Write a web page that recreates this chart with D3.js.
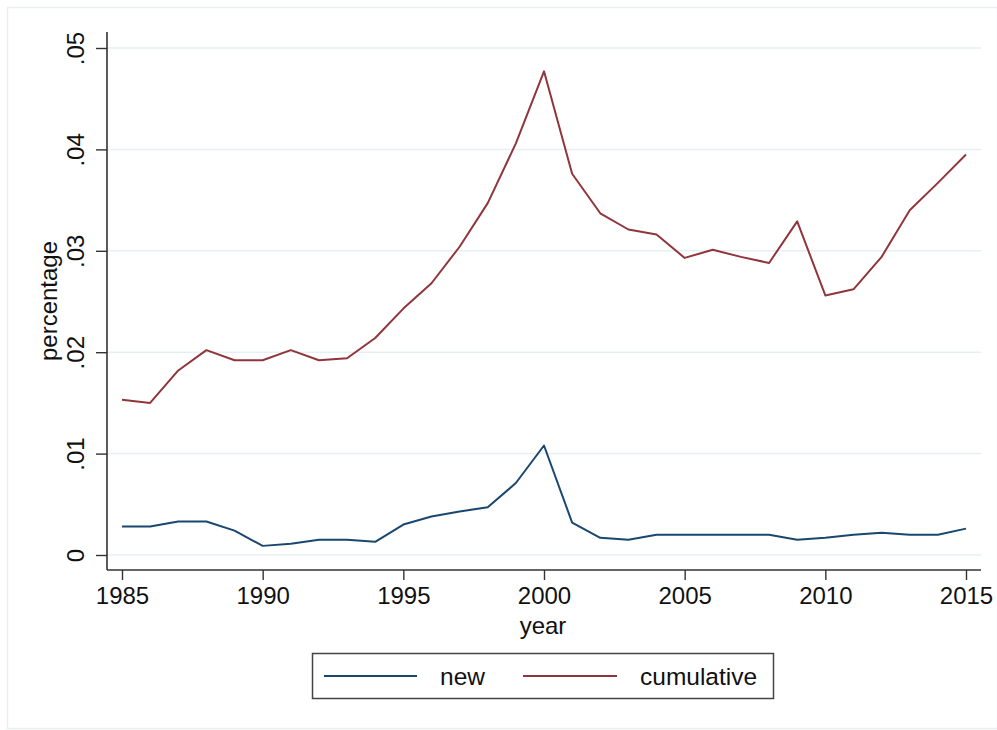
<!DOCTYPE html>
<html>
<head>
<meta charset="utf-8">
<script src="https://cdn.jsdelivr.net/npm/d3@7"></script>
<style>
  html, body { margin: 0; padding: 0; background: #fff; }
  svg { display: block; }
  text { font-family: "Liberation Sans", Arial, Helvetica, sans-serif; fill: #111; }
</style>
</head>
<body>
<script>
// ---- data ----
const years = [1985,1986,1987,1988,1989,1990,1991,1992,1993,1994,1995,1996,1997,1998,1999,2000,
               2001,2002,2003,2004,2005,2006,2007,2008,2009,2010,2011,2012,2013,2014,2015];
const newValues = [0.0028,0.0028,0.0033,0.0033,0.0024,0.0009,0.0011,0.0015,0.0015,0.0013,0.0030,0.0038,
                   0.0043,0.0047,0.0071,0.0108,0.0032,0.0017,0.0015,0.0020,0.0020,0.0020,0.0020,0.0020,
                   0.0015,0.0017,0.0020,0.0022,0.0020,0.0020,0.0026];
const cumulativeValues = [0.0153,0.0150,0.0182,0.0202,0.0192,0.0192,0.0202,0.0192,0.0194,0.0214,0.0243,0.0268,
                          0.0304,0.0347,0.0406,0.0477,0.0376,0.0337,0.0321,0.0316,0.0293,0.0301,0.0294,0.0288,
                          0.0329,0.0256,0.0262,0.0294,0.0340,0.0367,0.0395];
const xTicks = [1985,1990,1995,2000,2005,2010,2015];
const yTicks = [0,0.01,0.02,0.03,0.04,0.05];
const yTickLabels = ["0",".01",".02",".03",".04",".05"];
const seriesNames = ["new","cumulative"];
const seriesColors = ["#1a476f","#90353b"];

// ---- layout ----
const W = 997, H = 730;
const svg = d3.select("body").append("svg").attr("width", W).attr("height", H);

// outer frame
svg.append("rect").attr("x", 7.5).attr("y", 7.5).attr("width", W - 7).attr("height", H - 9)
  .attr("fill", "#fff").attr("stroke", "#e9eef0").attr("stroke-width", 1.5);

const plotLeft = 107, plotRight = 981, plotTop = 32, plotBottom = 570;
const x = d3.scaleLinear().domain([1985, 2015]).range([122, 966]);
const y = d3.scaleLinear().domain([0, 0.05]).range([555, 48]);

// gridlines
svg.append("g").selectAll("line").data(yTicks).join("line")
  .attr("x1", plotLeft).attr("x2", plotRight)
  .attr("y1", d => y(d)).attr("y2", d => y(d))
  .attr("stroke", "#e6eff1").attr("stroke-width", 1.5);

// y axis
const yAxis = d3.axisLeft(y).tickValues(yTicks).tickSize(11).tickSizeOuter(0)
  .tickFormat((d, i) => yTickLabels[i]);
const gy = svg.append("g").attr("transform", `translate(${plotLeft},0)`).call(yAxis);
gy.select(".domain").remove();
gy.append("line").attr("x1", 0).attr("x2", 0).attr("y1", plotTop).attr("y2", plotBottom)
  .attr("stroke", "#333").attr("stroke-width", 1.6);
gy.selectAll(".tick line").attr("stroke", "#333").attr("stroke-width", 1.4);
gy.selectAll(".tick text")
  .attr("font-size", 24).attr("fill", "#111")
  .attr("transform", "rotate(-90)")
  .attr("x", 0).attr("y", -23).attr("dy", 0)
  .attr("text-anchor", "middle");

// x axis
const xAxis = d3.axisBottom(x).tickValues(xTicks).tickSize(10).tickSizeOuter(0).tickFormat(d3.format("d"));
const gx = svg.append("g").attr("transform", `translate(0,${plotBottom})`).call(xAxis);
gx.select(".domain").remove();
gx.append("line").attr("x1", plotLeft).attr("x2", plotRight).attr("y1", 0).attr("y2", 0)
  .attr("stroke", "#333").attr("stroke-width", 1.6);
gx.selectAll(".tick line").attr("stroke", "#333").attr("stroke-width", 1.4);
gx.selectAll(".tick text").attr("font-size", 24).attr("fill", "#111").attr("y", 34).attr("dy", 0);

// axis titles
svg.append("text").attr("x", (plotLeft + plotRight) / 2 - 1).attr("y", 634)
  .attr("text-anchor", "middle").attr("font-size", 24).text("year");
svg.append("text").attr("transform", `translate(57,${(plotTop + plotBottom) / 2}) rotate(-90)`)
  .attr("text-anchor", "middle").attr("font-size", 24).text("percentage");

// lines
const series = [newValues, cumulativeValues];
const line = d3.line().x((d, i) => x(years[i])).y(d => y(d));
series.forEach((vals, k) => {
  svg.append("path").datum(vals).attr("d", line)
    .attr("fill", "none").attr("stroke", seriesColors[k]).attr("stroke-width", 2)
    .attr("stroke-linejoin", "round");
});

// legend
const lg = svg.append("g");
lg.append("rect").attr("x", 312.5).attr("y", 653.5).attr("width", 461).attr("height", 45)
  .attr("fill", "#fff").attr("stroke", "#444").attr("stroke-width", 1.5);
const legendItems = [
  { x1: 324, x2: 417, tx: 440 },
  { x1: 523, x2: 617, tx: 640 }
];
legendItems.forEach((it, k) => {
  lg.append("line").attr("x1", it.x1).attr("x2", it.x2).attr("y1", 676).attr("y2", 676)
    .attr("stroke", seriesColors[k]).attr("stroke-width", 2);
  lg.append("text").attr("x", it.tx).attr("y", 685).attr("font-size", 24.5).text(seriesNames[k]);
});
</script>
</body>
</html>
